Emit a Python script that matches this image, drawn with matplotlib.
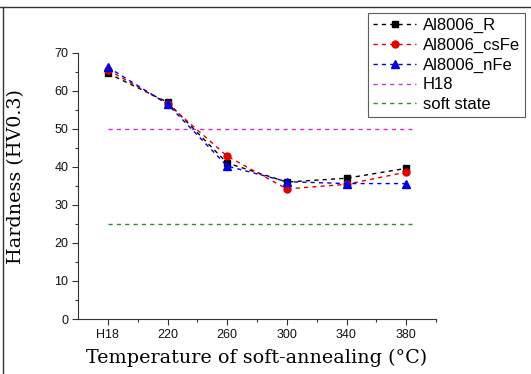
import matplotlib
matplotlib.use("Agg")
import matplotlib.pyplot as plt
from matplotlib.lines import Line2D

categories = ["H18", "220", "260", "300", "340", "380"]
x_pos = [180, 220, 260, 300, 340, 380]
al_R = [64.6, 57.0, 41.0, 36.0, 37.0, 39.6]
al_csFe = [65.5, 56.6, 42.8, 34.2, 35.4, 38.6]
al_nFe = [66.2, 56.5, 40.2, 36.1, 35.6, 35.6]
h18_level = 50
soft_level = 25
ref_x = [180, 384]

fig = plt.figure(figsize=(5.31, 3.74), dpi=100)
ax = fig.add_axes([78/531, 1 - 319/374, (436-78)/531, (319-52.7)/374])

dash = (3, 3)
ax.plot(x_pos, al_R, ls='--', dashes=dash, color='black', marker='s', ms=4.5, lw=1, label='Al8006_R')
ax.plot(x_pos, al_csFe, ls='--', dashes=dash, color='#e00000', marker='o', ms=5, lw=1, label='Al8006_csFe')
ax.plot(x_pos, al_nFe, ls='--', dashes=dash, color='#0000e0', marker='^', ms=5.5, lw=1, label='Al8006_nFe')
ax.plot(ref_x, [h18_level]*2, ls='--', dashes=dash, color='#cc33cc', lw=1, label='H18')
ax.plot(ref_x, [soft_level]*2, ls='--', dashes=dash, color='#2e8b2e', lw=1, label='soft state')

ax.set_xlim(160, 400)
ax.set_ylim(0, 70)
ax.set_xticks(x_pos)
ax.set_xticklabels(categories)
ax.set_xticks([200, 240, 280, 320, 360, 400], minor=True)
ax.set_yticks(range(0, 71, 10))
ax.set_yticks(range(5, 70, 10), minor=True)
for s in ['top', 'right']:
    ax.spines[s].set_visible(False)
for s in ['left', 'bottom']:
    ax.spines[s].set_linewidth(0.8)
    ax.spines[s].set_color('#333333')
ax.tick_params(axis='both', which='major', direction='out', length=4, width=0.8,
               labelsize=9, colors='#333333', labelcolor='#111111', pad=3)
ax.tick_params(axis='both', which='minor', direction='out', length=2.5, width=0.8, colors='#333333')
for t in ax.get_xticklabels() + ax.get_yticklabels():
    t.set_fontfamily('Liberation Sans')

ax.set_xlabel('Temperature of soft-annealing (°C)', fontsize=13.8, family='DejaVu Serif', labelpad=6)
ax.set_ylabel('Hardness (HV0.3)', fontsize=13.8, family='DejaVu Serif')
ax.yaxis.set_label_coords(-0.148, 0.535)

leg = fig.legend(loc='upper left', bbox_to_anchor=(368/531, 1 - 13/374),
                 prop={'family': 'Liberation Sans', 'size': 12}, frameon=True, fancybox=False,
                 edgecolor='#333333', borderpad=0.3, labelspacing=0.28, handlelength=2.6,
                 handletextpad=0.4, borderaxespad=0)
leg.get_frame().set_linewidth(0.8)

fig.add_artist(Line2D([0, 1], [1 - 7/374]*2, color='#333333', lw=1, transform=fig.transFigure))
fig.add_artist(Line2D([3/531]*2, [0, 1 - 7/374], color='#333333', lw=1, transform=fig.transFigure))

fig.savefig('out.png', dpi=100)
